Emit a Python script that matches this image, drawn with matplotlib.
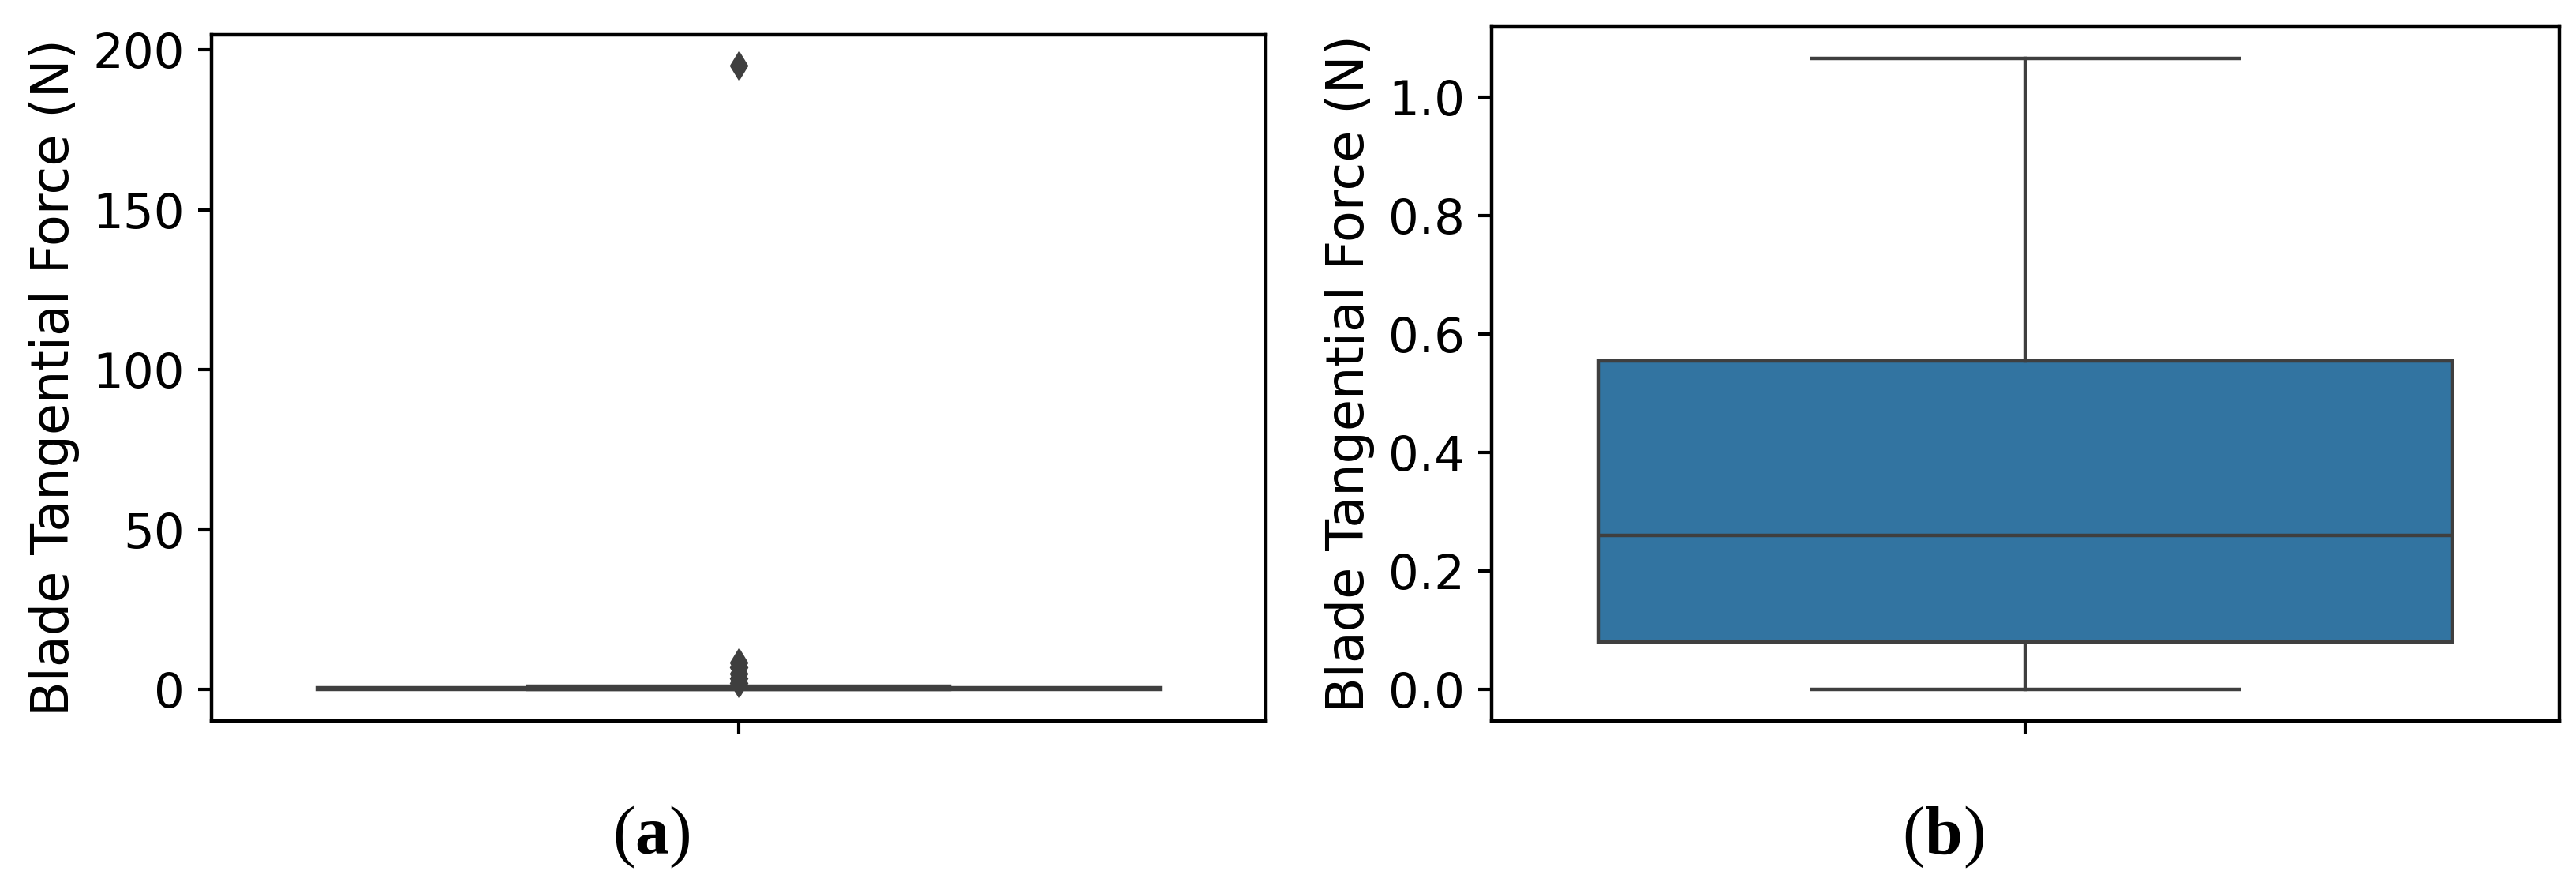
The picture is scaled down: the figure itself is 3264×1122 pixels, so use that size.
import numpy as np
import matplotlib
matplotlib.use('Agg')
import matplotlib.pyplot as plt
from matplotlib.offsetbox import TextArea, HPacker, AnnotationBbox

# Box statistics (N)
q1 = 0.08
med = 0.26
q3 = 0.555
whislo = 0.0
whishi = 1.065
# outliers only shown in panel (a)
fliers_a = [195.0, 8.5, 7.0, 5.0, 3.5, 2.0]
fliers_b = []

ylabel = 'Blade Tangential Force (N)'
letters = ['a', 'b']

box_color = '#3274a1'
line_color = '#3f3f3f'

def draw_box(ax, fliers):
    '''
    Draw one seaborn-like box from precomputed statistics
    '''
    stats = [dict(med=med, q1=q1, q3=q3, whislo=whislo, whishi=whishi, fliers=fliers)]
    ax.bxp(stats, positions=[0], widths=0.8, capwidths=0.4, patch_artist=True,
           boxprops=dict(facecolor=box_color, edgecolor=line_color, linewidth=3.2),
           medianprops=dict(color=line_color, linewidth=3.2),
           whiskerprops=dict(color=line_color, linewidth=3.2),
           capprops=dict(color=line_color, linewidth=3.2),
           flierprops=dict(marker='d', markerfacecolor=line_color, markeredgecolor=line_color,
                           markersize=18, linestyle='none'))
    ax.set_xlim(-0.5, 0.5)
    ax.set_xticks([0])
    ax.set_xticklabels([''])
    ax.set_ylabel(ylabel, fontsize=47, labelpad=12)
    ax.tick_params(axis='both', labelsize=44, length=12.5, width=3, pad=12)
    for sp in ax.spines.values():
        sp.set_linewidth(3.2)
    ax.margins(y=0.05)

def caption(fig, x, y, letter):
    '''
    Caption like "(a)" with regular brackets and a bold letter
    '''
    reg = dict(family='Liberation Serif', size=62, color='black')
    bold = dict(family='Liberation Serif', size=62, weight='bold', color='black')
    parts = [TextArea('(', textprops=reg), TextArea(letter, textprops=bold),
             TextArea(')', textprops=reg)]
    box = HPacker(children=parts, pad=0, sep=0, align='baseline')
    ab = AnnotationBbox(box, (x, y), xycoords='figure fraction', frameon=False,
                        box_alignment=(0.5, 0.5))
    fig.add_artist(ab)

fig = plt.figure(figsize=(32.64, 11.22), dpi=100)
ax1 = fig.add_axes([0.0821, 0.1863, 0.4093, 0.7745])
ax2 = fig.add_axes([0.5790, 0.1863, 0.4145, 0.7834])

draw_box(ax1, fliers_a)
draw_box(ax2, fliers_b)

caption(fig, 0.2531, 0.0553, letters[0])
caption(fig, 0.7546, 0.0553, letters[1])

plt.savefig('out.png', dpi=100)
